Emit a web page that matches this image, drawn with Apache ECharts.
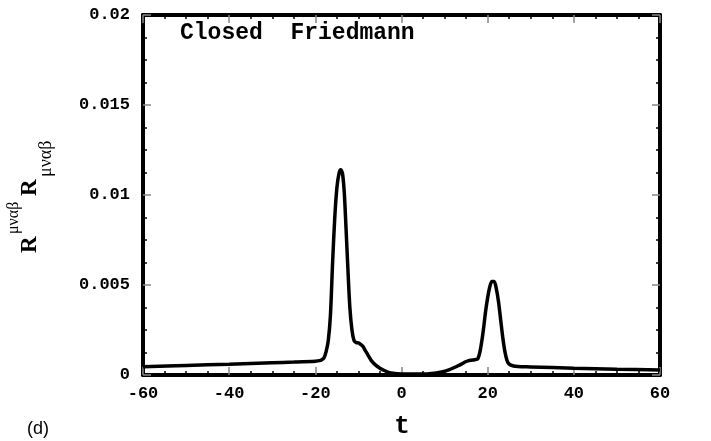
<!DOCTYPE html>
<html>
<head>
<meta charset="utf-8">
<script src="https://cdn.jsdelivr.net/npm/echarts@6/dist/echarts.min.js"></script>
<style>
html,body{margin:0;padding:0;background:#fff;}
#chart{width:711px;height:441px;}
</style>
</head>
<body>
<div id="chart"></div>
<script>
// Time values (t)
var tValues = [-60,-50,-40,-30,-25,-20,-19,-18.5,-18,-17.5,-17,-16.5,-16,-15.5,-15,-14.5,-14.1,-13.7,-13.3,-13,-12.5,-12,-11.5,-11,-10.5,-10,-9.5,-9,-8.5,-8,-7,-6,-5,-4,-3,-2,0,2,5,7,9,11,13,14,15,16,17,17.7,18.3,19,19.5,20,20.5,21,21.5,22,22.5,23,23.5,24,24.5,25,26,27,30,40,50,60];
// R^{μναβ}R_{μναβ} values
var rValues = [0.00046,0.00053,0.0006,0.00068,0.00072,0.00077,0.0008,0.00085,0.00095,0.0013,0.0019,0.0033,0.0062,0.0087,0.0104,0.0112,0.0114,0.0112,0.0102,0.0088,0.0062,0.0038,0.0025,0.0019,0.0018,0.00178,0.0017,0.0016,0.0014,0.0012,0.0008,0.00055,0.00038,0.00025,0.00015,0.0001,0.00006,0.00005,0.00005,0.00008,0.00015,0.00028,0.0005,0.00062,0.00075,0.00082,0.00085,0.0009,0.0014,0.0025,0.0035,0.0043,0.0049,0.0052,0.0052,0.0048,0.0041,0.0031,0.0021,0.0013,0.0008,0.0006,0.0005,0.00047,0.00045,0.00038,0.00032,0.00028];
var titleText = 'Closed  Friedmann';
var xName = 't';
var panelLabel = '(d)';

var seriesData = tValues.map(function(t,i){return [t, rValues[i]];});

var chart = echarts.init(document.getElementById('chart'), null, {renderer:'canvas'});
var mono = '"Liberation Mono", "Courier New", monospace';
var serif = '"Liberation Serif", "Times New Roman", serif';
var axisLineStyle = {color:'#000', width:4};
function baseAxis(extra){
  return Object.assign({
    type:'value',
    axisLine:{show:true, onZero:false, lineStyle:axisLineStyle},
    axisTick:{show:true, inside:true, length:8, lineStyle:{color:'#888', width:1.5}},
    minorTick:{show:true, splitNumber:4, length:4, lineStyle:{color:'#000', width:1.5}},
    splitLine:{show:false}
  }, extra);
}
var option = {
  animation:false,
  backgroundColor:'#fff',
  grid:{left:143, right:51, top:15, bottom:66},
  xAxis:[
    baseAxis({min:-60, max:60, interval:20, position:'bottom',
      axisLabel:{margin:10, fontFamily:mono, fontWeight:'bold', fontSize:17, color:'#000'}}),
    baseAxis({min:-60, max:60, interval:20, position:'top', axisLabel:{show:false}})
  ],
  yAxis:[
    baseAxis({min:0, max:0.02, interval:0.005, position:'left',
      axisLabel:{margin:13, fontFamily:mono, fontWeight:'bold', fontSize:17, color:'#000'}}),
    baseAxis({min:0, max:0.02, interval:0.005, position:'right', axisLabel:{show:false}})
  ],
  series:[{
    type:'line',
    xAxisIndex:0, yAxisIndex:0,
    data:seriesData,
    showSymbol:false,
    smooth:0.3,
    lineStyle:{color:'#000', width:3.5},
    z:5
  }],
  graphic:[
    {type:'text', left:180, top:22, style:{text:titleText, font:'bold 23px '+mono, fill:'#000'}},
    {type:'text', x:402, y:426, style:{text:xName, font:'bold 26px '+mono, fill:'#000', textAlign:'center', textVerticalAlign:'middle'}},
    {type:'text', x:38, y:429, style:{text:panelLabel, font:'18px "Liberation Sans", Arial, sans-serif', fill:'#000', textAlign:'center', textVerticalAlign:'middle'}},
    {type:'text', x:30, y:253, rotation:Math.PI/2, style:{text:'R', font:'bold 23px '+serif, fill:'#000', textAlign:'left', textVerticalAlign:'middle'}},
    {type:'text', x:14, y:234, rotation:Math.PI/2, style:{text:'μναβ', font:'16px '+serif, fill:'#000', textAlign:'left', textVerticalAlign:'middle'}},
    {type:'text', x:30, y:196, rotation:Math.PI/2, style:{text:'R', font:'bold 23px '+serif, fill:'#000', textAlign:'left', textVerticalAlign:'middle'}},
    {type:'text', x:46, y:177, rotation:Math.PI/2, style:{text:'μναβ', font:'18px '+serif, fill:'#000', textAlign:'left', textVerticalAlign:'middle'}}
  ]
};
chart.setOption(option);
</script>
</body>
</html>
